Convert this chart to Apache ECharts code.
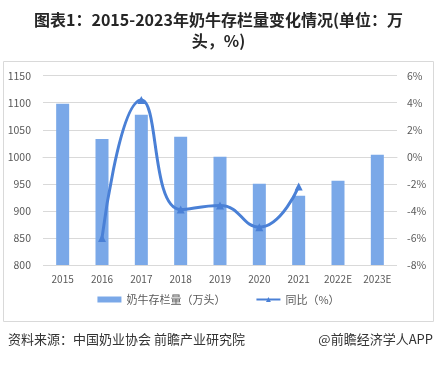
<!DOCTYPE html>
<html><head><meta charset="utf-8">
<script src="https://cdn.jsdelivr.net/npm/echarts@6/dist/echarts.min.js"></script>
<style>html,body{margin:0;padding:0;background:#fff}#c{width:437px;height:365px}</style>
</head><body><div id="c"></div>
<script>
const categories = ['2015','2016','2017','2018','2019','2020','2021','2022E','2023E'];
const stock = [1098,1033,1078,1037,1000,950,928,956,1004];
const yoy = [null,-6.0,4.2,-3.9,-3.6,-5.2,-2.2,null,null];
const leftTicks = {min:800,max:1150,interval:50};
const rightTicks = {min:-8,max:6,interval:2};

const chart = echarts.init(document.getElementById('c'));
const font = '"Noto Sans CJK SC", "Microsoft YaHei", sans-serif';
chart.setOption({
  animation:false,
  textStyle:{fontFamily:font},
  graphic:[
    {type:'text',x:218.5,y:9,style:{text:'图表1：2015-2023年奶牛存栏量变化情况(单位：万\n头，%)',
      textAlign:'center',fontSize:16,fontWeight:'bold',fill:'#262626',lineHeight:21,fontFamily:font}},
    {type:'rect',shape:{x:3.5,y:61.5,width:430,height:260},style:{fill:'none',stroke:'#d9d9d9',lineWidth:1}},
    {type:'text',left:8,top:333,style:{text:'资料来源：中国奶业协会 前瞻产业研究院',fontSize:13,fill:'#333',fontFamily:font}},
    {type:'text',right:4,top:333,style:{text:'@前瞻经济学人APP',fontSize:13,fill:'#333',fontFamily:font}}
  ],
  grid:{left:43,right:40,top:75.7,bottom:100},
  legend:{
    bottom:55, left:'center', itemGap:30, itemWidth:24, itemHeight:6,
    textStyle:{fontSize:11,color:'#595959'},
    data:[{name:'奶牛存栏量（万头）',icon:'rect'},{name:'同比（%）'}]
  },
  xAxis:{type:'category',data:categories,
    axisLine:{lineStyle:{color:'#d9d9d9'}},axisTick:{show:false},
    axisLabel:{fontSize:10,color:'#595959',margin:9}},
  yAxis:[
    {type:'value',min:leftTicks.min,max:leftTicks.max,interval:leftTicks.interval,
     axisLabel:{fontSize:10.5,color:'#595959',margin:12,formatter:v=>String(v)},
     axisLine:{show:false},axisTick:{show:false},
     splitLine:{lineStyle:{color:'#d9d9d9'}}},
    {type:'value',min:rightTicks.min,max:rightTicks.max,interval:rightTicks.interval,
     axisLabel:{fontSize:10.5,color:'#595959',formatter:'{value}%',margin:10},
     axisLine:{show:false},axisTick:{show:false},splitLine:{show:false}}
  ],
  series:[
    {name:'奶牛存栏量（万头）',type:'bar',data:stock,barWidth:13,
     itemStyle:{color:'#7aa8e8'}},
    {name:'同比（%）',type:'line',yAxisIndex:1,data:yoy,smooth:0.5,
     symbol:'triangle',symbolSize:8,
     lineStyle:{color:'#4a80d6',width:3},itemStyle:{color:'#4a80d6'}}
  ]
});
</script></body></html>
